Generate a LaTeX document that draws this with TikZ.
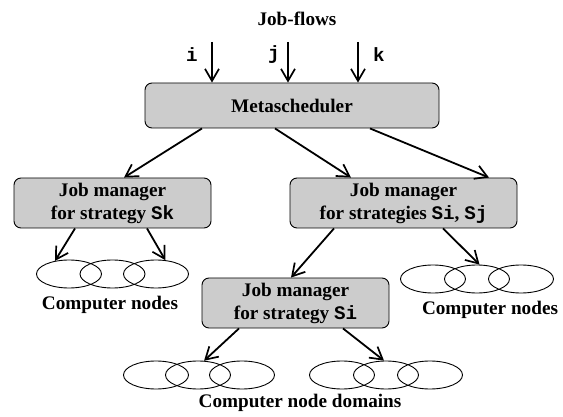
\documentclass[tikz,border=0pt]{standalone}
\usepackage{fontspec}
\setmainfont{Liberation Serif}
\setmonofont{Liberation Mono}
\usetikzlibrary{shapes.geometric,arrows.meta}

% strategy names in bold typewriter
\newcommand{\sname}[1]{{\ttfamily\bfseries #1}}

\tikzset{
  mgrbox/.style={draw, line width=0.9pt, rounded corners=7pt, fill=black!20,
    align=center, inner sep=0pt, minimum height=50pt},
  cnode/.style={draw, ellipse, line width=0.9pt, minimum width=65pt,
    minimum height=28pt, inner sep=0pt},
  link/.style={line width=1.8pt, -{Straight Barb[length=12pt,width=14pt,line width=1.7pt]}}
}

\begin{document}
\begin{tikzpicture}[x=1pt, y=-1pt, font=\fontsize{19.2pt}{23pt}\selectfont\bfseries]

\useasboundingbox (0,0) rectangle (563,417);

% Incoming job-flows
\node (flows) at (297,19) {Job-flows};
\coordinate (fi) at (212,42);
\coordinate (fj) at (288,42);
\coordinate (fk) at (358,42);
\node (li) at (192,55) {\sname{i}};
\node (lj) at (274,55) {\sname{j}};
\node (lk) at (379,55) {\sname{k}};

% Metascheduler
\node[mgrbox, minimum width=294pt, minimum height=45pt] (meta) at (292,105.5) {Metascheduler};
\foreach \f in {fi,fj,fk}
  \draw[link] (\f) -- (\f |- meta.north);

% Job managers
\node[mgrbox, minimum width=197pt] (jmk) at (112.5,203) {Job manager\\for strategy \sname{Sk}};
\node[mgrbox, minimum width=227pt] (jmij) at (403.5,203) {Job manager\\for strategies \sname{Si}, \sname{Sj}};
\node[mgrbox, minimum width=187pt] (jmi) at (295.5,303) {Job manager\\for strategy \sname{Si}};

% Metascheduler to job managers
\draw[link] ([xshift=-90pt]meta.south) -- ([xshift=11.5pt]jmk.north);
\draw[link] ([xshift=-17pt]meta.south) -- ([xshift=-52.5pt]jmij.north);
\draw[link] ([xshift=78pt]meta.south) -- ([xshift=85.5pt]jmij.north);
\draw[link] ([xshift=-69.5pt]jmij.south) -- (jmi.100);

% Computer node groups
\foreach \n/\x in {1/69,2/112.5,3/156}
  \node[cnode] (ck\n) at (\x,274) {};
\foreach \n/\x in {1/433,2/477,3/521}
  \node[cnode] (cij\n) at (\x,279) {};
\foreach \n/\x in {1/156,2/198,3/242}
  \node[cnode] (da\n) at (\x,375) {};
\foreach \n/\x in {1/342,2/386,3/430}
  \node[cnode] (db\n) at (\x,375) {};

% Job managers to their nodes
\draw[link] ([xshift=-37.5pt]jmk.south) -- (ck1.137);
\draw[link] ([xshift=34.5pt]jmk.south) -- (ck3.56);
\draw[link] ([xshift=39.5pt]jmij.south) -- (cij2.80);
\draw[link] ([xshift=-56.5pt]jmi.south) -- (da2.67);
\draw[link] ([xshift=47.5pt]jmi.south) -- (db2.98);

% Captions
\node (capk) at (110,305) {Computer nodes};
\node (capij) at (490,310) {Computer nodes};
\node (capd) at (300,403) {Computer node domains};

\end{tikzpicture}
\end{document}
